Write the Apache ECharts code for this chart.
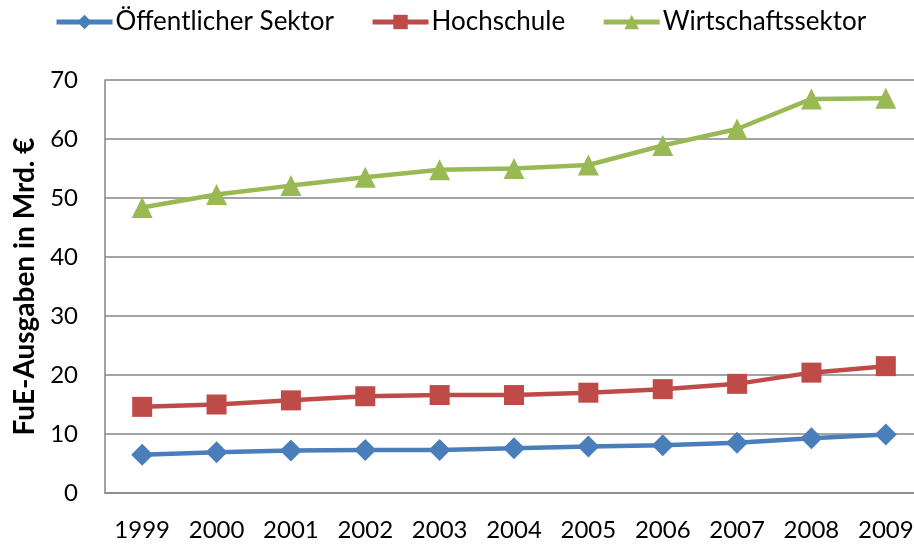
<!DOCTYPE html>
<html>
<head>
<meta charset="utf-8">
<script src="https://cdn.jsdelivr.net/npm/echarts@6/dist/echarts.min.js"></script>
<style>
html,body{margin:0;padding:0;background:#fff;overflow:hidden;}
#chart{width:923px;height:545px;}
</style>
</head>
<body>
<div id="chart"></div>
<script>
const years = ['1999','2000','2001','2002','2003','2004','2005','2006','2007','2008','2009'];
const oeffentlich = [6.5, 6.9, 7.2, 7.3, 7.3, 7.6, 7.9, 8.1, 8.5, 9.3, 9.9];
const hochschule = [14.6, 15.0, 15.7, 16.4, 16.6, 16.6, 17.0, 17.6, 18.5, 20.4, 21.5];
const wirtschaft = [48.4, 50.6, 52.1, 53.5, 54.8, 55.0, 55.6, 58.9, 61.7, 66.8, 66.9];
const seriesNames = ['Öffentlicher Sektor', 'Hochschule', 'Wirtschaftssektor'];
const yTicks = {min: 0, max: 70, interval: 10};
const yTitle = 'FuE-Ausgaben in Mrd. €';

const FONT = 'Lato';
const chart = echarts.init(document.getElementById('chart'), null, {renderer: 'canvas'});
function mkSeries(name, data, color, symbol, size) {
  return {
    name: name, type: 'line', data: data,
    symbol: symbol, symbolSize: size,
    lineStyle: {color: color, width: 4.5},
    itemStyle: {color: color},
    emphasis: {disabled: true},
    animation: false
  };
}
chart.setOption({
  animation: false,
  textStyle: {fontFamily: FONT},
  legend: {
    top: 4, left: 49,
    itemWidth: 56, itemHeight: 18, itemGap: 36,
    lineStyle: {width: 5},
    textStyle: {fontFamily: FONT, fontSize: 26, color: '#000', padding: [0,0,0,-2]},
    data: seriesNames
  },
  grid: {left: 105, top: 80, right: 0, height: 413, containLabel: false},
  xAxis: {
    type: 'category', data: years, boundaryGap: true,
    axisLine: {show: true, lineStyle: {color: '#868686', width: 1.5}},
    axisTick: {show: false},
    axisLabel: {color: '#000', fontSize: 24, fontFamily: FONT, margin: 25},
    splitLine: {show: false}
  },
  yAxis: {
    type: 'value', min: yTicks.min, max: yTicks.max, interval: yTicks.interval,
    name: yTitle, nameLocation: 'middle', nameRotate: 90, nameGap: 66,
    nameTextStyle: {fontFamily: FONT, fontSize: 28, fontWeight: 'bold', color: '#000'},
    axisLine: {show: true, lineStyle: {color: '#868686', width: 1.5}},
    axisTick: {show: false},
    axisLabel: {color: '#000', fontSize: 24, fontFamily: FONT, margin: 27},
    splitLine: {show: true, lineStyle: {color: '#868686', width: 1.5}}
  },
  series: [
    mkSeries(seriesNames[0], oeffentlich, '#4A7EBB', 'diamond', 22),
    mkSeries(seriesNames[1], hochschule, '#BE4B48', 'rect', 20),
    mkSeries(seriesNames[2], wirtschaft, '#98B954', 'triangle', 21)
  ]
});
</script>
</body>
</html>
